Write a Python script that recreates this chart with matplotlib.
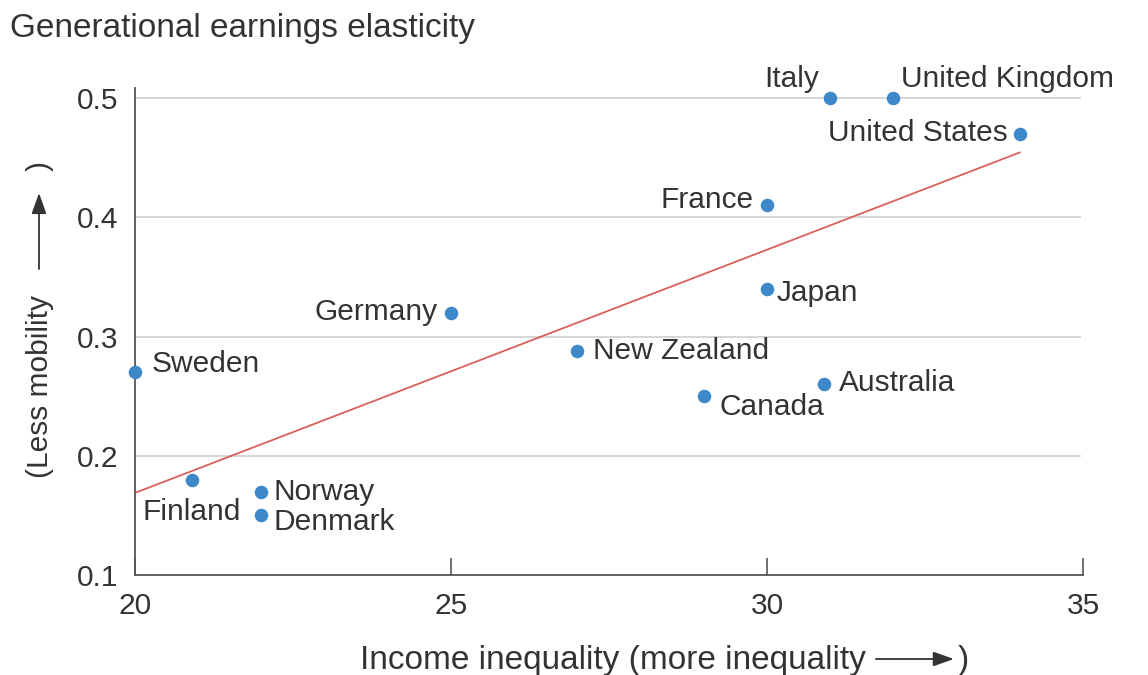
import numpy as np
import matplotlib
matplotlib.use("Agg")
import matplotlib.pyplot as plt

plt.rcParams['font.family'] = ['Liberation Sans', 'DejaVu Sans']

countries = ["Sweden", "Finland", "Norway", "Denmark", "Germany", "New Zealand",
             "Canada", "Japan", "France", "Australia", "Italy", "United Kingdom",
             "United States"]
inequality = [20.0, 20.9, 22.0, 22.0, 25.0, 27.0, 29.0, 30.0, 30.0, 30.9, 31.0, 32.0, 34.0]
elasticity = [0.27, 0.18, 0.17, 0.15, 0.32, 0.288, 0.25, 0.34, 0.41, 0.26, 0.50, 0.50, 0.47]
x_ticks = [20, 25, 30, 35]
y_ticks = [0.1, 0.2, 0.3, 0.4, 0.5]

# label placement (offset in pixels, horizontal alignment)
label_pos = {
    "Sweden": ((17, 8), "left"),
    "Finland": ((0, -32), "center"),
    "Norway": ((12, 0), "left"),
    "Denmark": ((12, -7), "left"),
    "Germany": ((-13, 1), "right"),
    "New Zealand": ((16, 0), "left"),
    "Canada": ((16, -11), "left"),
    "Japan": ((10, -4), "left"),
    "France": ((-13, 5), "right"),
    "Australia": ((15, 1), "left"),
    "Italy": ((-11, 19), "right"),
    "United Kingdom": ((8, 19), "left"),
    "United States": ((-12, 1), "right"),
}

text_color = "#333333"
FS = 21.5
fig = plt.figure(figsize=(11.48, 6.75), dpi=100)
ax = fig.add_axes([135/1148, 1-575/675, (1083-135)/1148, (575-88)/675])

ax.set_xlim(20, 35)
ax.set_ylim(0.1, 0.1 + (575-88)/1192.5)

# grid lines
for yv in y_ticks[1:]:
    ax.axhline(yv, color="#cfcfcf", lw=1.2, zorder=0, xmax=0.997)

# regression line
xs = np.array(inequality)
ys = np.array(elasticity)
m, b = np.polyfit(xs, ys, 1)
xl = np.array([min(inequality), max(inequality)])
ax.plot(xl, m*xl + b, color="#d9605a", lw=1.3, zorder=2)

ax.scatter(inequality, elasticity, s=95, color="#3d88c8", zorder=3, clip_on=False,
           linewidths=0)

for c, xv, yv in zip(countries, inequality, elasticity):
    off, ha = label_pos[c]
    ax.annotate(c, (xv, yv), xytext=off, textcoords="offset pixels",
                ha=ha, va="center", fontsize=FS, color=text_color, zorder=4)

for s in ["top", "right"]:
    ax.spines[s].set_visible(False)
for s in ["left", "bottom"]:
    ax.spines[s].set_color("#555555")
    ax.spines[s].set_linewidth(1.3)

ax.set_xticks(x_ticks)
ax.set_xticklabels([str(v) for v in x_ticks])
ax.set_yticks(y_ticks)
ax.set_yticklabels([f"{v:.1f}" for v in y_ticks])
ax.tick_params(axis="x", direction="in", length=12, width=1.2, color="#555555",
               labelsize=FS, labelcolor=text_color, pad=12)
ax.tick_params(axis="y", length=0, labelsize=FS, labelcolor=text_color, pad=12)

fig.text(10/1148, 1-28/675, "Generational earnings elasticity", fontsize=24,
         color=text_color, ha="left", va="center")

W, H = 1148, 675
renderer = fig.canvas.get_renderer()
arrow_props = dict(arrowstyle="-|>,head_length=0.9,head_width=0.32", color="#333333",
                   lw=1.3, shrinkA=0, shrinkB=0, mutation_scale=14)

# x label with long arrow
XFS = 24
tx = fig.text(360/W, 1-660/H, "Income inequality (more inequality", fontsize=XFS,
              color=text_color, ha="left", va="center")
bb = tx.get_window_extent(renderer)
x0 = bb.x1 + 10
x1 = x0 + 78
yc = (bb.y0 + bb.y1) / 2 + 1
fig.add_artist(matplotlib.patches.FancyArrowPatch((x0/W, yc/H), (x1/W, yc/H),
               transform=fig.transFigure, **arrow_props))
fig.text((x1 + 4)/W, 1-660/H, ")", fontsize=XFS, color=text_color, ha="left", va="center")

# y label with long arrow
ty = fig.text(40/W, 1-478/H, "(Less mobility", rotation=90, fontsize=FS,
              color=text_color, ha="center", va="bottom")
bb = ty.get_window_extent(renderer)
y0 = bb.y1 + 26
y1 = y0 + 76
xc = (bb.x0 + bb.x1) / 2 - 1
fig.add_artist(matplotlib.patches.FancyArrowPatch((xc/W, y0/H), (xc/W, y1/H),
               transform=fig.transFigure, **arrow_props))
fig.text(40/W, (y1 + 22)/H, ")", rotation=90, fontsize=FS, color=text_color,
         ha="center", va="bottom")

fig.savefig("out.png", dpi=100)
